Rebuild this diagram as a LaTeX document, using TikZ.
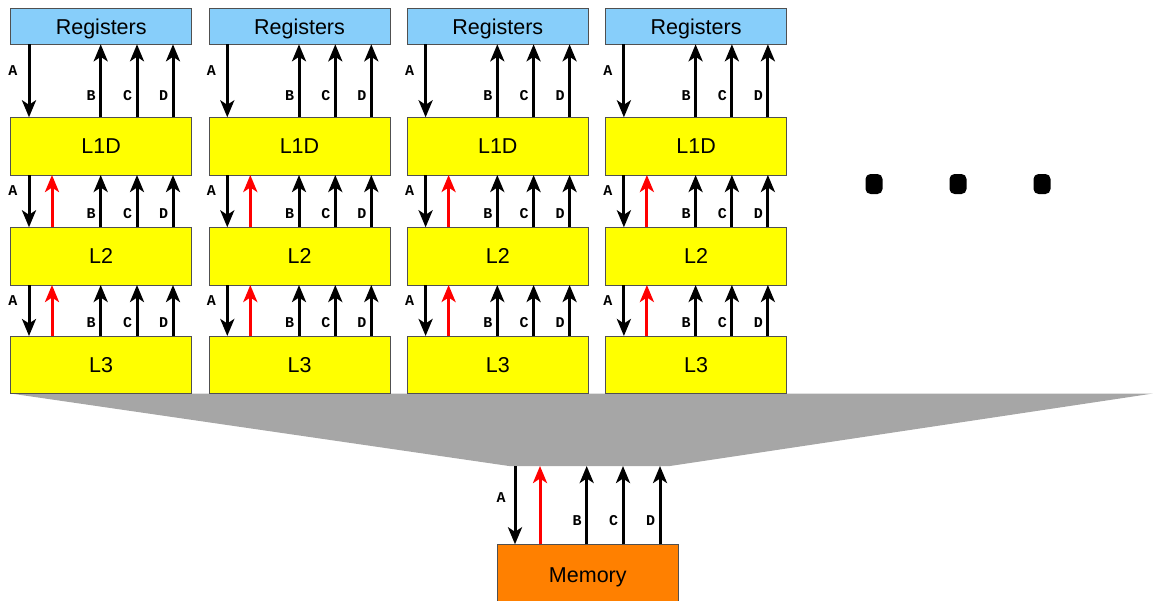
\documentclass[tikz,border=0pt]{standalone}
\usepackage{fontspec}
\setmainfont{Liberation Sans}
\newfontfamily\lblfont{Liberation Mono}
\usetikzlibrary{arrows.meta,calc,backgrounds}
\definecolor{regblue}{RGB}{135,206,250}
\definecolor{cacheyellow}{RGB}{255,255,0}
\definecolor{memorange}{RGB}{255,128,0}
\definecolor{funnelgray}{RGB}{166,166,166}
\definecolor{boxedge}{RGB}{80,80,80}
\begin{document}
\begin{tikzpicture}[x=1pt,y=-1pt,
  box/.style={draw=boxedge, line width=0.8pt, anchor=north west, inner sep=0pt, outer sep=0pt,
    minimum width=181pt, text height=15.4pt, text depth=0pt, font=\fontsize{21.5}{24}\selectfont},
  arr/.style={line width=3pt, -{Stealth[length=17pt,width=14pt,inset=4.5pt]}},
  redarr/.style={arr, red},
  lbl/.style={font=\lblfont\bfseries\fontsize{15}{15}\selectfont, inner sep=0pt},
  dotbox/.style={fill=black, rectangle, rounded corners=5pt, minimum width=17pt, minimum height=20pt, inner sep=0pt}]
\useasboundingbox (0,0) rectangle (1153,600);

\foreach \i in {0,...,3}{
  \pgfmathsetmacro\ox{10.7+198.3*\i}
  \node[box, fill=regblue, minimum height=36pt] (reg\i) at (\ox,8.3) {Registers};
  \node[box, fill=cacheyellow, minimum height=57.7pt] (l1\i) at (\ox,117.3) {L1D};
  \node[box, fill=cacheyellow, minimum height=57.7pt] (l2\i) at (\ox,227.3) {L2};
  \node[box, fill=cacheyellow, minimum height=57.5pt] (l3\i) at (\ox,336) {L3};
  \foreach \n/\dx in {A/18.3,R/41.3,B/90,C/126.3,D/162.3}
    \coordinate (x\n\i) at (\ox+\dx,0);
}

\foreach \i in {0,...,3}{
  % Registers <-> L1D
  \draw[arr] (reg\i.south -| xA\i) -- (l1\i.north -| xA\i) node[lbl, pos=0.36, left=10pt] {A};
  \foreach \n in {B,C,D}
    \draw[arr] (l1\i.north -| x\n\i) -- (reg\i.south -| x\n\i) node[lbl, pos=0.3, left=3.5pt] {\n};
  % L1D <-> L2 and L2 <-> L3
  \foreach \up/\lo in {l1/l2,l2/l3}{
    \draw[arr] (\up\i.south -| xA\i) -- (\lo\i.north -| xA\i) node[lbl, pos=0.3, left=10pt] {A};
    \draw[redarr] (\lo\i.north -| xR\i) -- (\up\i.south -| xR\i);
    \foreach \n in {B,C,D}
      \draw[arr] (\lo\i.north -| x\n\i) -- (\up\i.south -| x\n\i) node[lbl, pos=0.27, left=3.5pt] {\n};
  }
}

% funnel
\coordinate (fTL) at (l30.south west);
\coordinate (fTR) at (1153,393.5);
\coordinate (fBR) at (670,466);
\coordinate (fBL) at (509,466);
\begin{scope}[on background layer]
  \fill[funnelgray] (fTL) -- (fTR) -- (fBR) -- (fBL) -- cycle;
\end{scope}

% memory
\node[box, fill=memorange, minimum height=60pt] (mem) at (497.3,544.3) {Memory};
\foreach \n/\xx in {A/515,R/540,B/586.7,C/623,D/660}
  \coordinate (m\n) at (\xx,0);
\draw[arr] (fBL -| mA) -- (mem.north -| mA) node[lbl, pos=0.4, left=8pt] {A};
\draw[redarr] (mem.north -| mR) -- (fBL -| mR);
\foreach \n in {B,C,D}
  \draw[arr] (mem.north -| m\n) -- (fBL -| m\n) node[lbl, pos=0.3, left=3.5pt] {\n};

% ellipsis dots
\node[dotbox] (dot1) at (874,184) {};
\node[dotbox] (dot2) at (958,184) {};
\node[dotbox] (dot3) at (1042,184) {};
\end{tikzpicture}
\end{document}
